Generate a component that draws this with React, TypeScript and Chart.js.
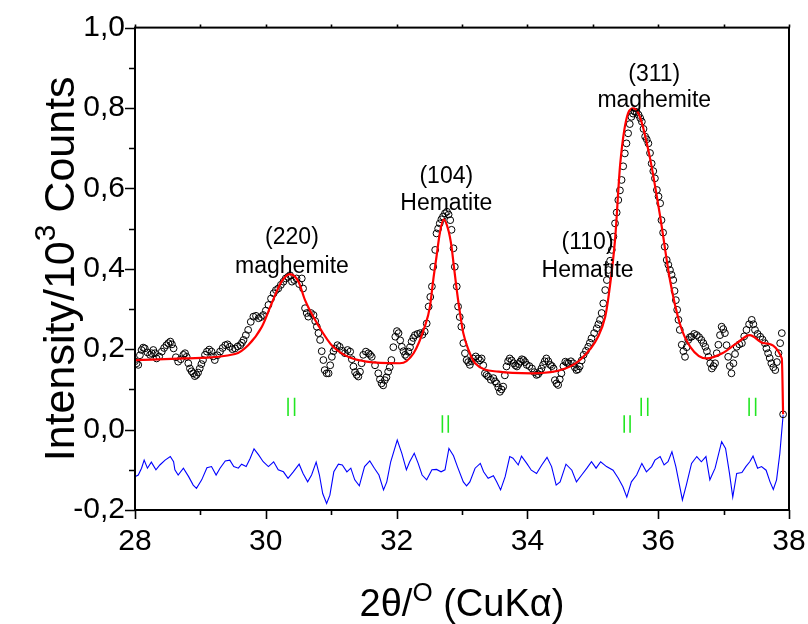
import React, { useEffect, useRef } from 'react';
import { Chart, registerables } from 'chart.js';

Chart.register(...registerables);

// ---------- data (2θ in degrees, intensity in 10^3 counts) ----------
const obsTheta = [
  28.000, 28.025, 28.050, 28.075, 28.100, 28.125, 28.150, 28.190, 28.230, 28.255,
  28.280, 28.305, 28.330, 28.370, 28.410, 28.445, 28.480, 28.510, 28.540, 28.565,
  28.590, 28.625, 28.660, 28.700, 28.740, 28.765, 28.790, 28.815, 28.840, 28.865,
  28.890, 28.915, 28.940, 28.965, 28.990, 29.015, 29.040, 29.070, 29.100, 29.135,
  29.170, 29.195, 29.220, 29.260, 29.300, 29.340, 29.380, 29.415, 29.450, 29.490,
  29.530, 29.570, 29.610, 29.635, 29.660, 29.695, 29.730, 29.770, 29.810, 29.850,
  29.890, 29.925, 29.960, 30.000, 30.040, 30.080, 30.120, 30.155, 30.190, 30.230,
  30.270, 30.305, 30.340, 30.370, 30.400, 30.435, 30.470, 30.510,
  30.550, 30.570, 30.600, 30.625, 30.650, 30.690, 30.730, 30.755, 30.780, 30.805,
  30.830, 30.855, 30.880, 30.900, 30.930, 30.960, 30.985, 31.010, 31.035, 31.060,
  31.095, 31.130, 31.170, 31.210, 31.250, 31.290, 31.315, 31.340, 31.365, 31.390,
  31.415, 31.440, 31.465, 31.490, 31.530, 31.570, 31.595, 31.620, 31.670, 31.720,
  31.745, 31.770, 31.795, 31.820, 31.845, 31.870, 31.895, 31.920, 31.950, 31.980,
  32.005, 32.030, 32.055, 32.080, 32.105, 32.130, 32.155, 32.180, 32.205, 32.230,
  32.255, 32.280, 32.320, 32.360, 32.395, 32.430, 32.460, 32.490, 32.515, 32.540,
  32.560, 32.590, 32.610, 32.635, 32.660, 32.685, 32.710, 32.740, 32.770, 32.795,
  32.820, 32.840, 32.870, 32.890, 32.920, 32.940, 32.965, 32.990, 33.020, 33.045,
  33.070,
  33.095, 33.120, 33.145, 33.170, 33.210, 33.250, 33.275, 33.300, 33.325, 33.350,
  33.375, 33.400, 33.440, 33.480, 33.505, 33.530, 33.555, 33.580, 33.605, 33.630,
  33.655, 33.680, 33.705, 33.730, 33.760, 33.790, 33.815, 33.840, 33.865, 33.890,
  33.915, 33.940, 33.965, 33.990, 34.030, 34.070, 34.105, 34.140, 34.165, 34.190,
  34.215, 34.240, 34.265, 34.290, 34.320, 34.350, 34.375, 34.400, 34.420, 34.445,
  34.470, 34.495, 34.520, 34.550, 34.580, 34.605, 34.630, 34.665, 34.700, 34.725,
  34.750, 34.775, 34.800, 34.830, 34.860, 34.895, 34.930, 34.955, 34.980, 35.020,
  35.060, 35.085,
  35.110, 35.135, 35.160, 35.190, 35.215, 35.240, 35.265, 35.290, 35.315, 35.340,
  35.365, 35.390, 35.415, 35.440, 35.465, 35.490, 35.515, 35.540, 35.565, 35.590,
  35.615, 35.640, 35.670, 35.700, 35.725, 35.750, 35.775, 35.800, 35.825, 35.850,
  35.875, 35.900, 35.925, 35.950, 35.980, 36.005, 36.030, 36.050, 36.075, 36.100,
  36.130, 36.155, 36.180, 36.205, 36.230, 36.250, 36.270, 36.290, 36.310, 36.330,
  36.360, 36.385, 36.410, 36.435, 36.460, 36.485, 36.510, 36.550, 36.590, 36.625,
  36.660, 36.690, 36.720, 36.745, 36.770, 36.795, 36.820, 36.845, 36.870, 36.895,
  36.920, 36.945, 36.970, 36.995, 37.020, 37.045, 37.070, 37.095, 37.120, 37.150,
  37.175, 37.200, 37.240, 37.280, 37.315, 37.350, 37.390, 37.430, 37.455, 37.480,
  37.520, 37.560, 37.595, 37.630, 37.655, 37.680, 37.705, 37.730, 37.760, 37.790,
  37.815, 37.840, 37.865, 37.890, 37.910,
];
const obsIntensity = [
  0.170, 0.165, 0.161, 0.185, 0.198, 0.204, 0.202, 0.192, 0.186, 0.190,
  0.198, 0.190, 0.177, 0.182, 0.194, 0.203, 0.210, 0.215, 0.219, 0.212,
  0.202, 0.180, 0.169, 0.175, 0.186, 0.190, 0.181, 0.165, 0.152, 0.145,
  0.140, 0.133, 0.136, 0.142, 0.152, 0.163, 0.173, 0.186, 0.194, 0.199,
  0.194, 0.182, 0.173, 0.185, 0.194, 0.203, 0.210, 0.212, 0.206, 0.200,
  0.202, 0.207, 0.210, 0.216, 0.223, 0.235, 0.248, 0.268, 0.281, 0.283,
  0.277, 0.280, 0.285, 0.296, 0.310, 0.326, 0.339, 0.347, 0.351, 0.360,
  0.368, 0.376, 0.380, 0.384, 0.368, 0.372, 0.376, 0.362,
  0.376, 0.351, 0.302, 0.290, 0.281, 0.290, 0.285, 0.270, 0.256, 0.240,
  0.223, 0.195, 0.173, 0.148, 0.140, 0.140, 0.160, 0.181, 0.195, 0.202,
  0.210, 0.206, 0.196, 0.190, 0.198, 0.194, 0.175, 0.157, 0.143, 0.136,
  0.132, 0.144, 0.165, 0.186, 0.194, 0.190, 0.186, 0.181, 0.160, 0.140,
  0.125, 0.115, 0.110, 0.123, 0.130, 0.144, 0.155, 0.173, 0.205, 0.231,
  0.245, 0.240, 0.222, 0.206, 0.195, 0.186, 0.182, 0.194, 0.205, 0.219,
  0.228, 0.235, 0.238, 0.240, 0.236, 0.244, 0.264, 0.306, 0.330, 0.356,
  0.405, 0.447, 0.488, 0.500, 0.513, 0.523, 0.530, 0.538, 0.542, 0.535,
  0.521, 0.497, 0.451, 0.405, 0.356, 0.306, 0.280, 0.256, 0.215, 0.190,
  0.173,
  0.168, 0.161, 0.170, 0.177, 0.182, 0.177, 0.172, 0.177, 0.160, 0.140,
  0.136, 0.132, 0.124, 0.128, 0.120, 0.115, 0.105, 0.094, 0.100, 0.107,
  0.135, 0.157, 0.170, 0.177, 0.172, 0.165, 0.160, 0.157, 0.163, 0.169,
  0.175, 0.173, 0.168, 0.161, 0.158, 0.152, 0.143, 0.136, 0.138, 0.144,
  0.152, 0.161, 0.170, 0.177, 0.170, 0.161, 0.158, 0.152, 0.123, 0.115,
  0.111, 0.125, 0.140, 0.158, 0.169, 0.166, 0.165, 0.170, 0.165, 0.155,
  0.148, 0.150, 0.157, 0.172, 0.186, 0.196, 0.206, 0.216, 0.227, 0.240,
  0.252, 0.262,
  0.273, 0.290, 0.314, 0.347, 0.372, 0.397, 0.420, 0.447, 0.480, 0.513,
  0.540, 0.571, 0.595, 0.621, 0.655, 0.687, 0.712, 0.737, 0.760, 0.778,
  0.786, 0.791, 0.790, 0.783, 0.775, 0.766, 0.748, 0.729, 0.722, 0.712,
  0.688, 0.662, 0.643, 0.625, 0.596, 0.580, 0.563, 0.521, 0.490, 0.455,
  0.422, 0.410, 0.397, 0.385, 0.372, 0.345, 0.322, 0.298, 0.273, 0.248,
  0.211, 0.195, 0.181, 0.205, 0.223, 0.230, 0.231, 0.238, 0.235, 0.230,
  0.223, 0.215, 0.206, 0.195, 0.181, 0.165, 0.152, 0.158, 0.165, 0.190,
  0.211, 0.235, 0.256, 0.250, 0.240, 0.210, 0.181, 0.158, 0.140, 0.165,
  0.188, 0.206, 0.212, 0.215, 0.232, 0.248, 0.262, 0.273, 0.262, 0.248,
  0.238, 0.231, 0.224, 0.215, 0.202, 0.190, 0.178, 0.165, 0.155, 0.148,
  0.168, 0.190, 0.215, 0.240, 0.038,
];

const fitTheta = [
  28.00, 28.76, 29.53, 29.73, 29.94, 30.09, 30.24, 30.37, 30.50, 30.60,
  30.80, 31.03, 31.54, 32.05, 32.26, 32.43, 32.51, 32.56, 32.61, 32.66,
  32.72, 32.79, 32.84, 32.87, 32.92, 32.97, 33.02, 33.10, 33.20, 33.56,
  34.07, 34.58, 34.83, 35.08, 35.19, 35.24, 35.34, 35.42, 35.54, 35.62,
  35.72, 35.87, 36.03, 36.18, 36.33, 36.49, 36.74, 36.98, 37.20, 37.40,
  37.61, 37.89, 37.91,
];
const fitIntensity = [
  0.173, 0.177, 0.188, 0.210, 0.256, 0.314, 0.368, 0.387, 0.368, 0.322,
  0.260, 0.206, 0.169, 0.165, 0.190, 0.256, 0.306, 0.372, 0.430, 0.488,
  0.523, 0.497, 0.455, 0.414, 0.347, 0.289, 0.240, 0.198, 0.165, 0.144,
  0.140, 0.152, 0.177, 0.231, 0.281, 0.330, 0.472, 0.662, 0.787, 0.799,
  0.778, 0.679, 0.530, 0.372, 0.264, 0.206, 0.177, 0.190, 0.215, 0.235,
  0.215, 0.177, 0.038,
];

const diffTheta = [
  28.00, 28.05, 28.10, 28.14, 28.19, 28.25, 28.32, 28.38, 28.46, 28.54,
  28.59, 28.61, 28.66, 28.74, 28.82, 28.89, 28.94, 29.02, 29.10, 29.17,
  29.24, 29.30, 29.38, 29.45, 29.51, 29.58, 29.63, 29.70, 29.76, 29.82,
  29.89, 29.96, 30.04, 30.12, 30.19, 30.27, 30.34, 30.42, 30.51, 30.57,
  30.64, 30.70, 30.77, 30.82, 30.87, 30.93, 30.98, 31.04, 31.11, 31.17,
  31.24, 31.30, 31.36, 31.43, 31.51, 31.59, 31.66, 31.73, 31.80, 31.85,
  31.91, 32.01, 32.08, 32.15, 32.20, 32.27, 32.33, 32.39, 32.46, 32.54,
  32.61, 32.68, 32.74, 32.80, 32.87, 32.93, 33.02,
  33.07, 33.12, 33.20, 33.28, 33.33, 33.40, 33.48, 33.53, 33.59, 33.66,
  33.73, 33.78, 33.86, 33.91, 33.99, 34.06, 34.14, 34.22, 34.30, 34.37,
  34.44, 34.50, 34.59, 34.68, 34.75, 34.83, 34.91, 34.98, 35.05, 35.12,
  35.21, 35.31, 35.39, 35.46, 35.52, 35.59, 35.67, 35.75, 35.82, 35.90,
  35.95, 36.03, 36.09, 36.15, 36.21, 36.27, 36.33, 36.37, 36.43, 36.51,
  36.59, 36.66, 36.73, 36.79, 36.87, 36.97, 37.03, 37.09, 37.14, 37.20,
  37.28, 37.34, 37.40, 37.45, 37.52, 37.58, 37.65, 37.71, 37.76, 37.81,
  37.86, 37.91,
];
const diffIntensity = [
  -0.117, -0.113, -0.096, -0.076, -0.096, -0.081, -0.100, -0.088, -0.076, -0.067,
  -0.080, -0.100, -0.113, -0.096, -0.117, -0.138, -0.146, -0.125, -0.095, -0.092,
  -0.113, -0.096, -0.078, -0.076, -0.092, -0.096, -0.086, -0.092, -0.072, -0.048,
  -0.063, -0.080, -0.092, -0.080, -0.100, -0.105, -0.121, -0.105, -0.086, -0.109,
  -0.130, -0.113, -0.081, -0.113, -0.159, -0.184, -0.163, -0.105, -0.086, -0.088,
  -0.105, -0.096, -0.125, -0.140, -0.092, -0.078, -0.096, -0.113, -0.150, -0.130,
  -0.080, -0.026, -0.059, -0.100, -0.080, -0.059, -0.084, -0.113, -0.125, -0.100,
  -0.099, -0.105, -0.100, -0.047, -0.065, -0.092, -0.130,
  -0.140, -0.130, -0.096, -0.084, -0.105, -0.121, -0.115, -0.130, -0.150, -0.117,
  -0.067, -0.071, -0.088, -0.066, -0.084, -0.101, -0.109, -0.088, -0.069, -0.092,
  -0.138, -0.130, -0.086, -0.101, -0.130, -0.113, -0.096, -0.080, -0.096, -0.080,
  -0.092, -0.101, -0.121, -0.142, -0.168, -0.130, -0.113, -0.084, -0.105, -0.092,
  -0.076, -0.067, -0.088, -0.080, -0.055, -0.092, -0.142, -0.175, -0.138, -0.084,
  -0.067, -0.080, -0.067, -0.125, -0.096, -0.030, -0.047, -0.109, -0.168, -0.109,
  -0.107, -0.092, -0.080, -0.066, -0.096, -0.092, -0.101, -0.130, -0.149, -0.125,
  -0.059, 0.036,
];

// Bragg reflection positions (Kα1 / Kα2 pairs) and their marker extents
const maghemiteKa1 = [30.34, 35.74, 37.39];
const maghemiteKa2 = [30.44, 35.84, 37.49];
const maghemiteMark = [0.079, 0.034];
const hematiteKa1 = [32.70, 35.48];
const hematiteKa2 = [32.79, 35.57];
const hematiteMark = [0.036, -0.008];

// peak annotations
const peakHkl = ['(220)', '(104)', '(110)', '(311)'];
const peakPhase = ['maghemite', 'Hematite', 'Hematite', 'maghemite'];
const peakLabelTheta = [30.40, 32.76, 34.92, 35.94];
const peakHklY = [0.462, 0.613, 0.449, 0.867];
const peakPhaseY = [0.390, 0.546, 0.380, 0.802];

// axes
const xTickValues = [28, 30, 32, 34, 36, 38];
const yTickValues = [-0.2, 0.0, 0.2, 0.4, 0.6, 0.8, 1.0];
const xMinorStep = 1;
const yMinorStep = 0.1;

const FONT = "'Liberation Sans', Arial, Helvetica, sans-serif";

const pts = (xs: number[], ys: number[]) => xs.map((x, i) => ({ x, y: ys[i] }));

const markSegments = (positions: number[], ext: number[]) => {
  const out: { x: number; y: number | null }[] = [];
  positions.forEach((p) => {
    out.push({ x: p, y: ext[0] }, { x: p, y: ext[1] }, { x: p, y: null });
  });
  return out;
};

type Part = { t: string; s: number; rise?: number };
function drawRich(ctx: CanvasRenderingContext2D, parts: Part[], cx: number, baseline: number) {
  const widths = parts.map((p) => {
    ctx.font = `${p.s}px ${FONT}`;
    return ctx.measureText(p.t).width;
  });
  const total = widths.reduce((a, b) => a + b, 0);
  let x = cx - total / 2;
  ctx.textAlign = 'left';
  ctx.textBaseline = 'alphabetic';
  parts.forEach((p, i) => {
    ctx.font = `${p.s}px ${FONT}`;
    ctx.fillText(p.t, x, baseline - (p.rise || 0));
    x += widths[i];
  });
}

const framePlugin = {
  id: 'frame',
  afterDatasetsDraw(chart: any) {
    const { ctx, chartArea: a, scales } = chart;
    const xs = scales.x;
    const ys = scales.y;
    ctx.save();
    ctx.strokeStyle = '#000';
    ctx.lineWidth = 2;
    ctx.strokeRect(a.left, a.top, a.right - a.left, a.bottom - a.top);
    ctx.lineWidth = 1.6;
    ctx.beginPath();
    const nx = Math.round((xs.max - xs.min) / xMinorStep);
    for (let i = 0; i <= nx; i++) {
      const v = xs.min + i * xMinorStep;
      const px = Math.round(xs.getPixelForValue(v)) + 0.5;
      const major = xTickValues.some((t) => Math.abs(t - v) < 1e-6);
      const len = major ? 9 : 5;
      ctx.moveTo(px, a.bottom);
      ctx.lineTo(px, a.bottom + len);
      ctx.moveTo(px, a.top);
      ctx.lineTo(px, a.top - 3);
    }
    const ny = Math.round((ys.max - ys.min) / yMinorStep);
    for (let i = 0; i <= ny; i++) {
      const v = ys.min + i * yMinorStep;
      const py = Math.round(ys.getPixelForValue(v)) + 0.5;
      const major = yTickValues.some((t) => Math.abs(t - v) < 1e-6);
      const len = major ? 10 : 6;
      ctx.moveTo(a.left, py);
      ctx.lineTo(a.left - len, py);
    }
    ctx.stroke();
    ctx.restore();
  },
};

const textPlugin = {
  id: 'texts',
  afterDraw(chart: any) {
    const { ctx, chartArea: a, scales } = chart;
    const xs = scales.x;
    const ys = scales.y;
    ctx.save();
    ctx.fillStyle = '#000';
    ctx.textAlign = 'center';
    ctx.textBaseline = 'alphabetic';
    ctx.font = `23px ${FONT}`;
    peakHkl.forEach((lab, i) => {
      const px = xs.getPixelForValue(peakLabelTheta[i]);
      ctx.fillText(lab, px, ys.getPixelForValue(peakHklY[i]));
      ctx.fillText(peakPhase[i], px, ys.getPixelForValue(peakPhaseY[i]));
    });
    // x title
    drawRich(
      ctx,
      [
        { t: '2θ/', s: 38 },
        { t: 'O', s: 26, rise: 15 },
        { t: ' (CuKα)', s: 38 },
      ],
      (a.left + a.right) / 2,
      616
    );
    // y title
    ctx.translate(74, (a.top + a.bottom) / 2);
    ctx.rotate(-Math.PI / 2);
    drawRich(
      ctx,
      [
        { t: 'Intensity/10', s: 43 },
        { t: '3', s: 30, rise: 19 },
        { t: ' Counts', s: 43 },
      ],
      0,
      0
    );
    ctx.restore();
  },
};

export default function App() {
  const ref = useRef<HTMLCanvasElement>(null);
  useEffect(() => {
    const canvas = ref.current!;
    const chart = new Chart(canvas, {
      type: 'line',
      data: {
        datasets: [
          {
            label: 'fit',
            data: pts(fitTheta, fitIntensity),
            borderColor: '#ff0000',
            borderWidth: 2.2,
            pointRadius: 0,
            cubicInterpolationMode: 'monotone',
            order: 0,
          },
          {
            label: 'observed',
            data: pts(obsTheta, obsIntensity),
            showLine: false,
            pointRadius: 3.4,
            pointBorderWidth: 1,
            pointBorderColor: '#000',
            pointBackgroundColor: 'rgba(255,255,255,0)',
            order: 1,
          },
          {
            label: 'difference',
            data: pts(diffTheta, diffIntensity),
            borderColor: '#0000ff',
            borderWidth: 1.1,
            pointRadius: 0,
            order: 2,
          },
          {
            label: 'maghemite',
            data: [...markSegments(maghemiteKa1, maghemiteMark), ...markSegments(maghemiteKa2, maghemiteMark)],
            borderColor: '#22e622',
            borderWidth: 1.6,
            pointRadius: 0,
            spanGaps: false,
            order: 3,
          },
          {
            label: 'hematite',
            data: [...markSegments(hematiteKa1, hematiteMark), ...markSegments(hematiteKa2, hematiteMark)],
            borderColor: '#22e622',
            borderWidth: 1.6,
            pointRadius: 0,
            spanGaps: false,
            order: 3,
          },
        ],
      },
      options: {
        responsive: false,
        animation: false,
        devicePixelRatio: 1,
        events: [],
        layout: { padding: { top: 27.6, right: 19, left: 0, bottom: 0 } },
        plugins: { legend: { display: false }, tooltip: { enabled: false } },
        scales: {
          x: {
            type: 'linear',
            min: 28,
            max: 38,
            afterBuildTicks: (s: any) => {
              s.ticks = xTickValues.map((v) => ({ value: v }));
            },
            afterFit: (s: any) => {
              s.height = 114;
              s.paddingLeft = 0;
              s.paddingRight = 0;
            },
            grid: { display: false, drawTicks: false },
            border: { display: false },
            ticks: {
              autoSkip: false,
              maxRotation: 0,
              padding: 14,
              color: '#000',
              font: { family: FONT, size: 30 },
              callback: (v: any) => String(v),
            },
          },
          y: {
            type: 'linear',
            min: -0.2,
            max: 1.0,
            afterBuildTicks: (s: any) => {
              s.ticks = yTickValues.map((v) => ({ value: v }));
            },
            afterFit: (s: any) => {
              s.width = 135;
              s.paddingTop = 0;
              s.paddingBottom = 0;
            },
            grid: { display: false, drawTicks: false },
            border: { display: false },
            ticks: {
              autoSkip: false,
              padding: 10,
              color: '#000',
              font: { family: FONT, size: 30 },
              callback: (v: any) => Number(v).toFixed(1).replace('.', ','),
            },
          },
        },
      },
      plugins: [framePlugin, textPlugin],
    } as any);
    return () => chart.destroy();
  }, []);
  return (
    <div style={{ position: 'fixed', left: 0, top: 0, width: 808, height: 624, background: '#fff' }}>
      <canvas ref={ref} width={808} height={624} style={{ display: 'block', width: 808, height: 624 }} />
    </div>
  );
}
